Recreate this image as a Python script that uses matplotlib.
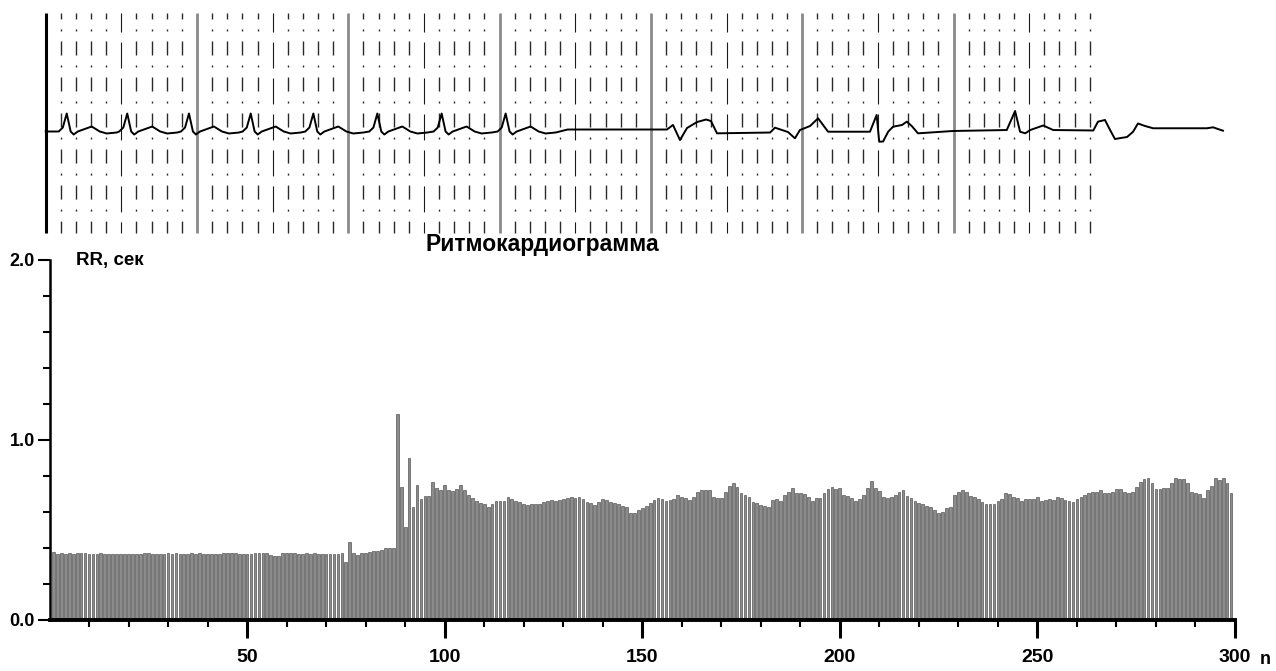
import matplotlib
matplotlib.use("Agg")
import matplotlib.pyplot as plt
from matplotlib.ticker import FixedLocator, MultipleLocator

plt.rcParams['lines.scale_dashes'] = False

# RR intervals, seconds, beat no. 1..299
rr_1_87 = [0.376, 0.367, 0.372, 0.367, 0.372, 0.367, 0.374, 0.374, 0.374, 0.365,
           0.365, 0.365, 0.374, 0.367, 0.365, 0.365, 0.365, 0.365, 0.365, 0.365,
           0.365, 0.365, 0.365, 0.370, 0.370, 0.365, 0.365, 0.365, 0.365, 0.370,
           0.365, 0.370, 0.365, 0.365, 0.365, 0.370, 0.365, 0.370, 0.365, 0.365,
           0.365, 0.365, 0.365, 0.370, 0.370, 0.370, 0.370, 0.365, 0.365, 0.365,
           0.367, 0.370, 0.372, 0.374, 0.372, 0.361, 0.358, 0.358, 0.370, 0.370,
           0.370, 0.370, 0.365, 0.365, 0.370, 0.365, 0.370, 0.365, 0.365, 0.365,
           0.365, 0.365, 0.365, 0.370, 0.322, 0.435, 0.370, 0.361, 0.372, 0.372,
           0.376, 0.383, 0.385, 0.389, 0.398, 0.402, 0.398]
rr_88_151 = [1.143, 0.741, 0.518, 0.902, 0.630, 0.750, 0.672, 0.689, 0.689, 0.768,
             0.731, 0.722, 0.750, 0.722, 0.717, 0.728, 0.750, 0.722, 0.694, 0.676,
             0.663, 0.652, 0.643, 0.630, 0.644, 0.663, 0.663, 0.663, 0.681, 0.670,
             0.663, 0.657, 0.645, 0.639, 0.644, 0.644, 0.644, 0.657, 0.663, 0.667,
             0.663, 0.667, 0.670, 0.676, 0.681, 0.676, 0.681, 0.670, 0.657, 0.648,
             0.639, 0.657, 0.672, 0.667, 0.657, 0.648, 0.643, 0.635, 0.630, 0.596,
             0.596, 0.611, 0.620, 0.635]
rr_152_227 = [0.648, 0.667, 0.680, 0.670, 0.663, 0.667, 0.672, 0.694, 0.685, 0.676,
              0.667, 0.685, 0.713, 0.722, 0.722, 0.722, 0.681, 0.680, 0.676, 0.713,
              0.744, 0.759, 0.737, 0.707, 0.694, 0.681, 0.657, 0.652, 0.639, 0.633,
              0.626, 0.667, 0.672, 0.663, 0.694, 0.713, 0.731, 0.707, 0.704, 0.700,
              0.685, 0.663, 0.676, 0.676, 0.707, 0.726, 0.741, 0.726, 0.731, 0.694,
              0.689, 0.676, 0.661, 0.670, 0.694, 0.731, 0.772, 0.731, 0.719, 0.685,
              0.676, 0.685, 0.694, 0.713, 0.722, 0.689, 0.676, 0.661, 0.652, 0.644,
              0.633, 0.626, 0.611, 0.593, 0.602, 0.620]
rr_228_299 = [0.630, 0.694, 0.713, 0.722, 0.713, 0.689, 0.681, 0.670, 0.657, 0.644,
              0.644, 0.644, 0.663, 0.670, 0.704, 0.700, 0.685, 0.676, 0.663, 0.670,
              0.670, 0.670, 0.681, 0.663, 0.667, 0.670, 0.667, 0.685, 0.676, 0.667,
              0.663, 0.657, 0.670, 0.685, 0.694, 0.704, 0.709, 0.713, 0.722, 0.707,
              0.707, 0.713, 0.726, 0.726, 0.713, 0.707, 0.713, 0.737, 0.769, 0.781,
              0.787, 0.759, 0.726, 0.726, 0.731, 0.731, 0.759, 0.787, 0.781, 0.781,
              0.759, 0.713, 0.704, 0.700, 0.676, 0.722, 0.744, 0.787, 0.778, 0.787,
              0.759, 0.704]
rr = rr_1_87 + rr_88_151 + rr_152_227 + rr_228_299
beat_no = list(range(1, len(rr) + 1))

x_major = [50, 100, 150, 200, 250, 300]
y_major = [0.0, 1.0, 2.0]
y_labels = ['0.0', '1.0', '2.0']

# ECG strip: time in s, amplitude in mV
r_times = [0.139, 0.539, 0.947, 1.355, 1.769, 2.192, 2.617, 3.040]
beat_dt = [-0.053, -0.026, 0.0, 0.026, 0.046, 0.073, 0.165, 0.218, 0.264, 0.330]
beat_mv = [0.0, 0.054, 0.245, 0.0, -0.041, 0.0, 0.068, 0.0, -0.027, -0.014]
tail_t = [3.45, 4.106, 4.146, 4.192, 4.239, 4.305, 4.364, 4.397, 4.437, 4.788,
          4.820, 4.906, 4.952, 4.985, 5.052, 5.105, 5.171, 5.448, 5.492, 5.509,
          5.535, 5.568, 5.600, 5.660, 5.691, 5.724, 5.765, 5.997, 6.352, 6.407,
          6.440, 6.474, 6.507, 6.593, 6.659, 6.924, 6.955, 7.001, 7.035, 7.067,
          7.147, 7.187, 7.219, 7.266, 7.319, 7.675, 7.715, 7.781]
tail_mv = [0.027, 0.027, 0.089, -0.116, 0.048, 0.129, 0.163, 0.143, -0.025, -0.014,
           0.052, -0.007, -0.093, 0.020, 0.075, 0.180, -0.003, -0.003, 0.225, -0.139,
           -0.136, -0.003, 0.065, 0.089, 0.134, 0.075, -0.025, 0.007, 0.020, 0.279,
           -0.003, -0.025, 0.020, 0.082, 0.020, 0.014, 0.134, 0.157, 0.020, -0.102,
           -0.075, -0.003, 0.109, 0.075, 0.044, 0.044, 0.057, 0.011]
grid_cells = 69  # 0.1 s columns

trace_t = [0.0]
trace_mv = [0.0]
for r in r_times:
    for dt, mv in zip(beat_dt, beat_mv):
        trace_t.append(r + dt)
        trace_mv.append(mv)
trace_t += tail_t
trace_mv += tail_mv

W, H = 1276, 671
fig = plt.figure(figsize=(W / 100, H / 100), dpi=100)

ecg = fig.add_axes([0, 1 - 240 / H, 1, 240 / H])
ecg.set_xlim(-45.7 / 151.3, (W - 45.7) / 151.3)
ecg.set_ylim(-108.5 / 73.4, 131.5 / 73.4)
ecg.axis('off')
g_top, g_bot = 1.614, -1.383
for k in range(grid_cells + 1):
    t = k * 0.1
    if k == 0:
        ecg.plot([t, t], [g_top, g_bot], color='black', lw=2.2, solid_capstyle='butt')
    elif k % 10 == 0:
        ecg.plot([t, t], [g_top, g_bot], color='#8a8a8a', lw=2.0, solid_capstyle='butt')
    elif k % 5 == 0:
        ecg.plot([t, t], [g_top, g_bot], color='#1a1a1a', lw=0.8,
                 linestyle=(5.0, (18.7, 7.2)))
    else:
        ecg.plot([t, t], [g_top, g_bot], color='#2a2a2a', lw=1.0,
                 linestyle=(5.8, (10.1, 7.2, 1.44, 7.2)))
ecg.plot(trace_t, trace_mv, color='black', lw=1.4, solid_joinstyle='round')

ax = fig.add_axes([49.5 / W, 1 - 620 / H, (1235 - 49.5) / W, 360 / H])
ax.bar(beat_no, rr, width=0.7, color='#8c8c8c', edgecolor='#3a3a3a', linewidth=0.4)
ax.set_xlim(0, 300)
ax.set_ylim(0, 2.0)
ax.spines['top'].set_visible(False)
ax.spines['right'].set_visible(False)
ax.spines['left'].set_linewidth(1.8)
ax.spines['bottom'].set_linewidth(2.8)

narrow = ['Liberation Sans Narrow', 'Liberation Sans', 'DejaVu Sans']
wide = ['Liberation Sans', 'DejaVu Sans']

ax.set_xticks(x_major)
ax.set_xticklabels([str(v) for v in x_major], fontsize=14, fontweight='bold', family=narrow)
ax.xaxis.set_minor_locator(FixedLocator([v for v in range(10, 300, 10) if v % 50]))
ax.set_yticks(y_major)
ax.set_yticklabels(y_labels, fontsize=13, fontweight='bold', family=wide)
ax.yaxis.set_minor_locator(MultipleLocator(0.2))
ax.tick_params(axis='x', which='major', direction='out', length=13, width=2.2, pad=8)
ax.tick_params(axis='x', which='minor', direction='out', length=5, width=1.5)
ax.tick_params(axis='y', which='major', direction='out', length=9, width=1.5, pad=1.5)
ax.tick_params(axis='y', which='minor', direction='out', length=5, width=1.5)

ax.text(0.0224, 0.986, 'RR, сек', transform=ax.transAxes, ha='left', va='baseline',
        fontsize=13.5, fontweight='bold', family=wide)
ax.text(0.416, 1.025, 'Ритмокардиограмма', transform=ax.transAxes, ha='center',
        va='baseline', fontsize=16.5, fontweight='bold', family=wide)
fig.text(1265 / W, 0.004, 'n', ha='center', va='bottom', fontsize=13,
         fontweight='bold', family=narrow)

fig.savefig('out.png', dpi=100)
